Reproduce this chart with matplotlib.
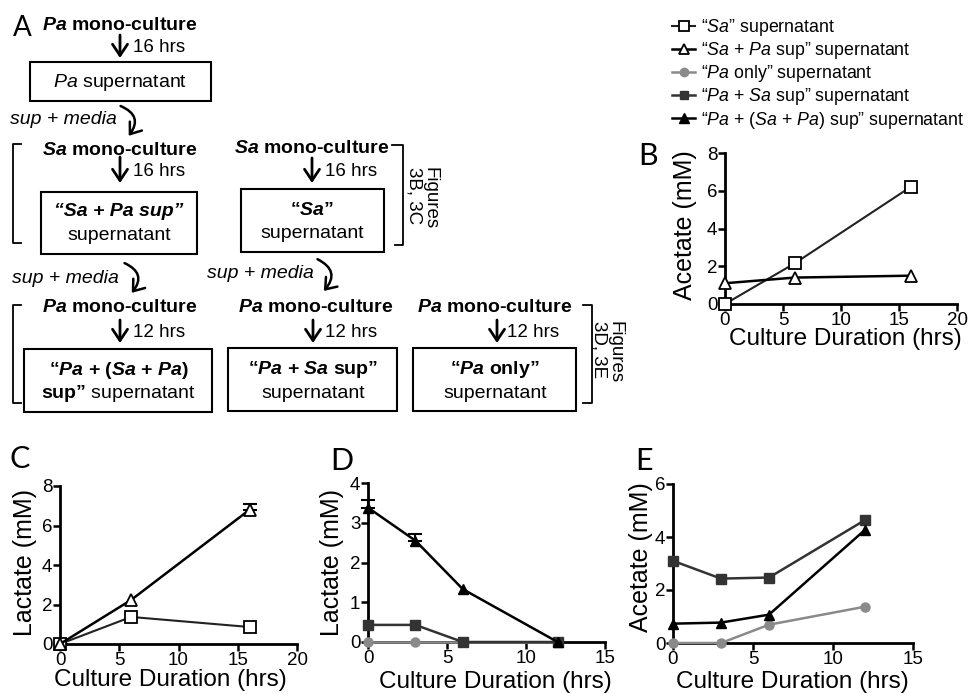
import numpy as np
import matplotlib
matplotlib.use('Agg')
import matplotlib.pyplot as plt
from matplotlib.patches import Rectangle, FancyArrowPatch
from matplotlib.lines import Line2D

plt.rcParams['font.family'] = ['Liberation Sans', 'DejaVu Sans']
plt.rcParams['mathtext.fontset'] = 'custom'
plt.rcParams['mathtext.rm'] = 'Liberation Sans'
plt.rcParams['mathtext.it'] = 'Liberation Sans:italic'
plt.rcParams['mathtext.bf'] = 'Liberation Sans:bold'
plt.rcParams['mathtext.bfit'] = 'Liberation Sans:italic:bold'

# panel B: acetate, Sa cultures
b_time = [0, 6, 16]
b_sa = [0, 2.15, 6.2]
b_sapa = [1.1, 1.4, 1.5]
# panel C: lactate, Sa cultures
c_time = [0, 6, 16]
c_sa = [0, 1.37, 0.86]
c_sapa = [0, 2.23, 6.8]
c_sapa_err = [0, 0, 0.3]
# panels D/E: Pa cultures
de_time = [0, 3, 6, 12]
d_paonly = [0, 0, 0, 0]
d_pasa = [0.43, 0.43, 0, 0]
d_pasapa = [3.38, 2.55, 1.33, 0]
d_pasapa_err = [0.18, 0.17, 0, 0]
e_paonly = [0, 0, 0.69, 1.37]
e_pasa = [3.1, 2.43, 2.47, 4.64]
e_pasapa = [0.73, 0.77, 1.07, 4.27]

legend_labels = [r'“$\mathit{Sa}$” supernatant',
                 r'“$\mathit{Sa}$ + $\mathit{Pa}$ sup” supernatant',
                 r'“$\mathit{Pa}$ only” supernatant',
                 r'“$\mathit{Pa}$ + $\mathit{Sa}$ sup” supernatant',
                 r'“$\mathit{Pa}$ + ($\mathit{Sa}$ + $\mathit{Pa}$) sup” supernatant']

W, H = 968, 694
fig = plt.figure(figsize=(W / 100, H / 100), dpi=100)

# full-figure axes in pixel units for the schematic
ax0 = fig.add_axes([0, 0, 1, 1])
ax0.set_xlim(0, W)
ax0.set_ylim(H, 0)
ax0.axis('off')


def txt(x, y, s, size=14, weight='normal', style='normal', ha='center', **kw):
    ax0.text(x, y, s, fontsize=size, fontweight=weight, fontstyle=style,
             ha=ha, va='center', **kw)


def box(x0, y0, x1, y1):
    ax0.add_patch(Rectangle((x0, y0), x1 - x0, y1 - y0, fill=False, lw=1.5, ec='k'))


def down(x, y0, y1, label, lx):
    ax0.annotate('', xy=(x, y1), xytext=(x, y0),
                 arrowprops=dict(arrowstyle='->,head_length=0.45,head_width=0.3',
                                 lw=2, color='k', shrinkA=0, shrinkB=0,
                                 mutation_scale=18))
    txt(lx, (y0 + y1) / 2 + 1, label, size=13.5, ha='left')


def curve(p0, p1):
    ax0.add_patch(FancyArrowPatch(p0, p1, connectionstyle='arc3,rad=-0.7',
                                  arrowstyle='->,head_length=0.4,head_width=0.3',
                                  mutation_scale=18, lw=1.8, color='k'))


def bracket(xs, ys):
    ax0.plot(xs, ys, color='k', lw=1.3)


txt(22, 28, 'A', size=20, family='Lato')
txt(120, 25, r'$\mathbfit{Pa}$ mono-culture', weight='bold')
down(120, 35, 58, '16 hrs', 133)
box(30, 62, 211, 101)
txt(120, 82, r'$\mathit{Pa}$ supernatant')
txt(10, 119, 'sup + media', style='italic', ha='left')
curve((118, 105), (127, 138))

bracket([21, 13, 13, 21], [144, 144, 243, 243])
txt(120, 150, r'$\mathbfit{Sa}$ mono-culture', weight='bold')
down(120, 157, 183, '16 hrs', 133)
box(41, 192, 197, 254)
txt(119, 211, '“Sa + Pa sup”', weight='bold', style='italic')
txt(119, 235, 'supernatant')

txt(312, 148, r'$\mathbfit{Sa}$ mono-culture', weight='bold')
down(312, 158, 183, '16 hrs', 325)
box(241, 189, 384, 252)
txt(312, 210, r'“$\mathbfit{Sa}$”', weight='bold')
txt(312, 233, 'supernatant')
bracket([392, 403, 403, 395], [145, 145, 245, 245])
txt(422, 198, 'Figures\n3B, 3C', size=13.5, rotation=270, ma='left', linespacing=0.9)

txt(12, 278, 'sup + media', style='italic', ha='left')
curve((122, 262), (130, 295))
txt(207, 273, 'sup + media', style='italic', ha='left')
curve((315, 258), (322, 293))

bracket([21, 13, 13, 21], [305, 305, 403, 403])
for cx, ax_, lx in [(120, 120, 133), (316, 313, 325), (495, 497, 507)]:
    txt(cx, 307, r'$\mathbfit{Pa}$ mono-culture', weight='bold')
    down(ax_, 320, 343, '12 hrs', lx)
box(24, 349, 212, 412)
box(228, 348, 397, 411)
box(413, 348, 576, 411)
txt(119, 370, r'“$\mathbfit{Pa}$ + ($\mathbfit{Sa}$ + $\mathbfit{Pa}$)', weight='bold')
txt(118, 393, r'$\mathbf{sup”}$ supernatant')
txt(313, 369, r'“$\mathbfit{Pa}$ + $\mathbfit{Sa}$ sup”', weight='bold')
txt(313, 393, 'supernatant')
txt(495, 369, r'“$\mathbfit{Pa}$ only”', weight='bold')
txt(495, 393, 'supernatant')
bracket([583, 592, 592, 583], [305, 305, 403, 403])
txt(607, 352, 'Figures\n3D, 3E', size=13.5, rotation=270, ma='left', linespacing=0.9)

for lab, x, y in [('B', 648, 156), ('C', 20, 459), ('D', 342, 461), ('E', 644, 461)]:
    txt(x, y, lab, size=22, family='Lato')


def px_axes(x0, x1, y0, y1):
    return fig.add_axes([x0 / W, 1 - y1 / H, (x1 - x0) / W, (y1 - y0) / H])


def style(ax, xmax, ymax, xt, yt, ylab, xl, yl):
    ax.set_xlim(0, xmax)
    ax.set_ylim(0, ymax)
    ax.set_xticks(xt)
    ax.set_yticks(yt)
    ax.patch.set_alpha(0)
    for s in ['top', 'right']:
        ax.spines[s].set_visible(False)
    for s in ['left', 'bottom']:
        ax.spines[s].set_linewidth(2)
    ax.tick_params(direction='out', length=5, width=1.8, labelsize=13.5, pad=0.5)
    ax.set_xlabel('Culture Duration (hrs)', fontsize=17.5)
    ax.set_ylabel(ylab, fontsize=18)
    ax.xaxis.set_label_coords(*xl)
    ax.yaxis.set_label_coords(*yl)
    ax.xaxis.label.set_va('center')
    ax.yaxis.label.set_va('center')


hollow_sq = dict(marker='s', mfc='white', mec='k', mew=1.3, color='#222', lw=1.5)
hollow_tri = dict(marker='^', mfc='white', mec='k', mew=1.3, color='k', lw=1.8)
gray_dot = dict(marker='o', mfc='#8a8a8a', mec='#8a8a8a', color='#8a8a8a', lw=1.8)
dark_sq = dict(marker='s', mfc='#333333', mec='#333333', color='#333333', lw=1.8)
black_tri = dict(marker='^', mfc='k', mec='k', color='k', lw=1.8)

# B
axB = px_axes(725, 957, 153, 304)
axB.plot(b_time, b_sa, ms=9, clip_on=False, zorder=3, **hollow_sq)
axB.plot(b_time, b_sapa, ms=8, clip_on=False, zorder=3, **hollow_tri)
style(axB, 20, 8, [0, 5, 10, 15, 20], [0, 2, 4, 6, 8], 'Acetate (mM)',
      (0.517, -0.235), (-0.172, 0.523))

# C
axC = px_axes(60, 297, 486, 644)
axC.plot(c_time, c_sa, ms=8.5, clip_on=False, zorder=3, **hollow_sq)
m = np.array(c_sapa_err) > 0
axC.errorbar(np.array(c_time)[m], np.array(c_sapa)[m],
             yerr=[np.zeros(m.sum()), np.array(c_sapa_err)[m]],
             fmt='none', ecolor='k', elinewidth=1.5, capsize=5, capthick=1.5, clip_on=False)
axC.plot(c_time, c_sapa, ms=8.5, clip_on=False, zorder=3, **hollow_tri)
style(axC, 20, 8, [0, 5, 10, 15, 20], [0, 2, 4, 6, 8], 'Lactate (mM)',
      (0.464, -0.228), (-0.148, 0.513))

# D
axD = px_axes(368, 605, 483, 642)
axD.plot(de_time, d_paonly, ms=6.5, clip_on=False, zorder=3, **gray_dot)
axD.plot(de_time, d_pasa, ms=6.5, clip_on=False, zorder=3, **dark_sq)
m = np.array(d_pasapa_err) > 0
axD.errorbar(np.array(de_time)[m], np.array(d_pasapa)[m],
             yerr=[np.zeros(m.sum()), np.array(d_pasapa_err)[m]],
             fmt='none', ecolor='k', elinewidth=1.5, capsize=5, capthick=1.5, clip_on=False)
axD.plot(de_time, d_pasapa, ms=7, clip_on=False, zorder=4, **black_tri)
style(axD, 15, 4, [0, 5, 10, 15], [0, 1, 2, 3, 4], 'Lactate (mM)',
      (0.536, -0.25), (-0.152, 0.503))

# E
axE = px_axes(673, 913, 484, 643)
axE.plot(de_time, e_paonly, ms=6.5, clip_on=False, zorder=3, **gray_dot)
axE.plot(de_time, e_pasa, ms=6.5, clip_on=False, zorder=3, **dark_sq)
axE.plot(de_time, e_pasapa, ms=6.5, clip_on=False, zorder=4, **black_tri)
style(axE, 15, 6, [0, 5, 10, 15], [0, 2, 4, 6], 'Acetate (mM)',
      (0.496, -0.245), (-0.133, 0.54))

# legend
handles = [Line2D([], [], ms=7, **hollow_sq), Line2D([], [], ms=7, **hollow_tri),
           Line2D([], [], ms=6, **gray_dot), Line2D([], [], ms=6, **dark_sq),
           Line2D([], [], ms=6.5, **black_tri)]
fig.legend(handles, legend_labels, loc='upper left', bbox_to_anchor=(672 / W, 1 - 17 / H),
           frameon=False, fontsize=12.8, handlelength=1.3, handletextpad=0.35,
           labelspacing=0.12, borderaxespad=0, borderpad=0)

fig.savefig('out.png', dpi=100)
